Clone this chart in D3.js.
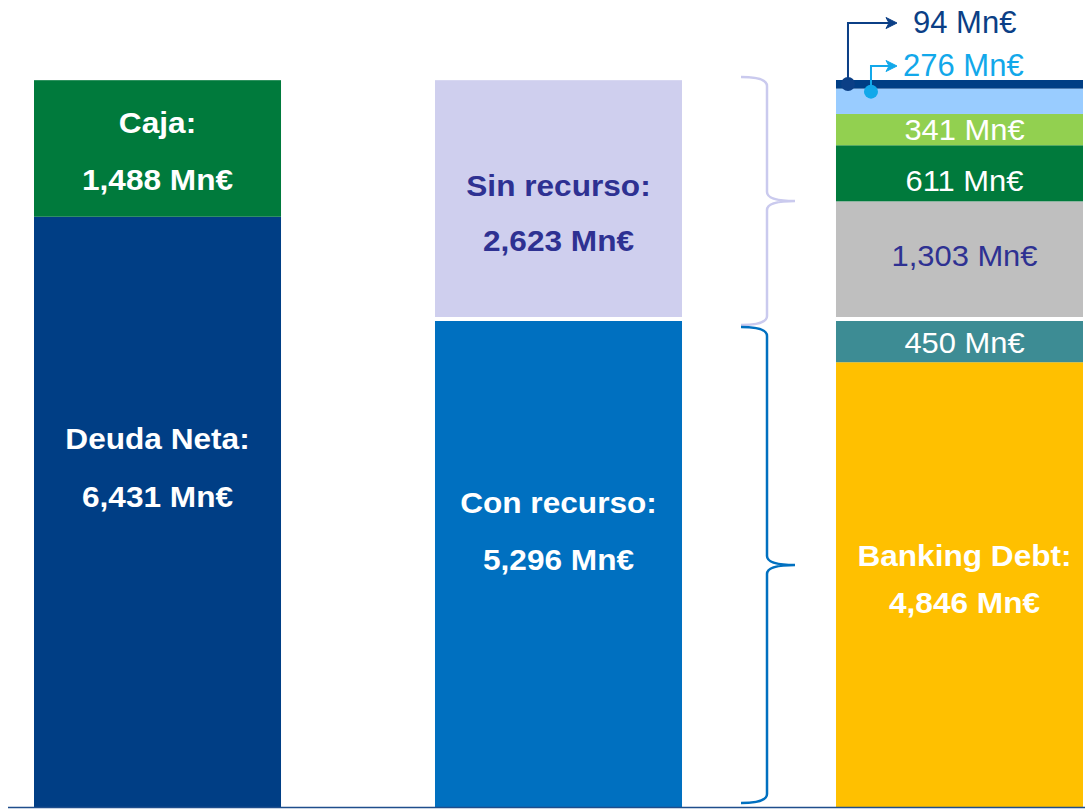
<!DOCTYPE html>
<html>
<head>
<meta charset="utf-8">
<script src="https://cdn.jsdelivr.net/npm/d3@7"></script>
<style>
  html, body { margin: 0; padding: 0; background: #ffffff; }
  svg { display: block; }
</style>
</head>
<body>
<svg id="chart" width="1085" height="809"></svg>
<script>
// ---------------- DATA ----------------
const columns = ["Deuda", "Recurso", "Detalle"];

// Column 1
const col1Names  = ["Deuda Neta", "Caja"];
const col1Values = [6431, 1488];

// Column 2
const col2Names  = ["Con recurso", "Sin recurso"];
const col2Values = [5296, 2623];

// Column 3 (bottom -> top)
const col3Names  = ["Banking Debt", "450", "1303", "611", "341", "276", "94"];
const col3Values = [4846, 450, 1303, 611, 341, 276, 94];

const totalValue = 7921;

// ---------------- STYLE ----------------
const col1Colors = ["#003E85", "#007A3C"];
const col2Colors = ["#0070C0", "#CFCFEE"];
const col3Colors = ["#FFC000", "#3D8C94", "#BFBFBF", "#007A3C", "#92D050", "#99CCFF", "#003E85"];
const navyText = "#2E3192";

const svg = d3.select("#chart");
const W = 1085, H = 809;

const x = d3.scaleBand().domain(columns).range([34, 1083]).paddingInner(0.384).paddingOuter(0);
const y = d3.scaleLinear().domain([0, totalValue]).range([807, 80]);

function stack(values) {
  let acc = 0;
  return values.map(v => { const s = { y0: acc, y1: acc + v, v }; acc += v; return s; });
}

const s1 = stack(col1Values), s2 = stack(col2Values), s3 = stack(col3Values);

function drawCol(col, segs, colors) {
  svg.append("g").selectAll("rect").data(segs).join("rect")
    .attr("x", x(col))
    .attr("width", x.bandwidth())
    .attr("y", d => y(d.y1))
    .attr("height", d => y(d.y0) - y(d.y1))
    .attr("fill", (d, i) => colors[i]);
}
drawCol("Deuda", s1, col1Colors);
drawCol("Recurso", s2, col2Colors);
drawCol("Detalle", s3, col3Colors);

// white separator between recourse and non-recourse (cols 2 & 3)
const sepY = y(col2Values[0]) - 2;
["Recurso", "Detalle"].forEach(c => {
  svg.append("line")
    .attr("x1", x(c)).attr("x2", x(c) + x.bandwidth())
    .attr("y1", sepY).attr("y2", sepY)
    .attr("stroke", "#ffffff").attr("stroke-width", 4);
});

// baseline
svg.append("line")
  .attr("x1", 8).attr("x2", W).attr("y1", 807.5).attr("y2", 807.5)
  .attr("stroke", "#1F4E8C").attr("stroke-width", 1.5);

// ---------------- LABELS ----------------
function fmt(v) { return d3.format(",")(v) + " Mn€"; }

function label(cx, yy, txt, opts) {
  const sx = opts.sx || 1;
  svg.append("text")
    .attr("transform", `translate(${cx},${yy}) scale(${sx},1)`)
    .attr("text-anchor", opts.anchor || "middle")
    .attr("font-family", "'Liberation Sans', Arial, sans-serif")
    .attr("font-size", opts.size)
    .attr("font-weight", opts.bold ? "bold" : "normal")
    .attr("fill", opts.color)
    .text(txt);
}

const boldOpts = (color) => ({ size: 29, bold: true, color, sx: 1.09 });
const cx1 = x("Deuda") + x.bandwidth() / 2;
const cx2 = x("Recurso") + x.bandwidth() / 2;
const cx3 = x("Detalle") + x.bandwidth() / 2 + 5;

// two-line bold labels: [column center, segment top, dy line1, dy line2, name, value, color]
const twoLine = [
  [cx1, y(s1[1].y1), 53, 110, "Caja:", col1Values[1], "#ffffff"],
  [cx1, y(s1[0].y1), 232, 290, "Deuda Neta:", col1Values[0], "#ffffff"],
  [cx2, y(s2[1].y1), 116, 171, "Sin recurso:", col2Values[1], navyText],
  [cx2, y(s2[0].y1), 192, 249, "Con recurso:", col2Values[0], "#ffffff"],
  [cx3, y(s3[0].y1), 204, 251, "Banking Debt:", col3Values[0], "#ffffff"]
];
twoLine.forEach(([cx, top, d1, d2, name, val, color]) => {
  label(cx, top + d1, name, boldOpts(color));
  label(cx, top + d2, fmt(val), boldOpts(color));
});

// single-line regular labels in column 3
const regIdx = [1, 2, 3, 4];
const regColors = { 1: "#ffffff", 2: navyText, 3: "#ffffff", 4: "#ffffff" };
const regAdj = { 1: 0, 2: -6, 3: 7, 4: -1 };
regIdx.forEach(i => {
  const mid = (y(s3[i].y0) + y(s3[i].y1)) / 2;
  label(cx3, mid + 11 + regAdj[i], fmt(col3Values[i]), { size: 30, color: regColors[i], sx: 1.03 });
});

// callouts for 94 and 276
const bx = x("Detalle");
const callouts = [
  { idx: 6, dotX: bx + 12, dotDy: 4, lineY: 23, color: "#0B3F86", textX: 913, textY: 33 },
  { idx: 5, dotX: bx + 35, dotDy: 3, lineY: 66, color: "#12A8EA", textX: 903, textY: 76 }
];
callouts.forEach(c => {
  const dy = y(s3[c.idx].y1) + c.dotDy;
  const tipX = 897;
  svg.append("path")
    .attr("d", `M${c.dotX},${dy} L${c.dotX},${c.lineY} L${tipX - 8},${c.lineY}`)
    .attr("fill", "none").attr("stroke", c.color).attr("stroke-width", 2);
  svg.append("path")
    .attr("d", `M${tipX},${c.lineY} L${tipX - 11},${c.lineY - 5.5} L${tipX - 8},${c.lineY} L${tipX - 11},${c.lineY + 5.5} Z`)
    .attr("fill", c.color).attr("stroke", c.color).attr("stroke-width", 1);
  svg.append("circle").attr("cx", c.dotX).attr("cy", dy).attr("r", 7).attr("fill", c.color);
  label(c.textX, c.textY, fmt(col3Values[c.idx]), { size: 31, color: c.color, anchor: "start" });
});

// ---------------- BRACES ----------------
function bracePath(x0, x1, xt, yTop, yBot, r) {
  const ym = (yTop + yBot) / 2;
  return `M${x0},${yTop} Q${x1},${yTop} ${x1},${yTop + r} ` +
         `L${x1},${ym - r} Q${x1},${ym} ${xt},${ym} ` +
         `Q${x1},${ym} ${x1},${ym + r} ` +
         `L${x1},${yBot - r} Q${x1},${yBot} ${x0},${yBot}`;
}
const bx0 = x("Recurso") + x.bandwidth() + 59;
const braces = [
  { top: y(totalValue) - 3, bot: y(col2Values[0]) + 4, color: "#CACAEE" },
  { top: y(col2Values[0]) + 6, bot: y(0) - 4, color: "#0070C0" }
];
braces.forEach(b => {
  svg.append("path")
    .attr("d", bracePath(bx0, bx0 + 26, bx0 + 54, b.top, b.bot, 9))
    .attr("fill", "none").attr("stroke", b.color).attr("stroke-width", 2.5);
});
</script>
</body>
</html>
